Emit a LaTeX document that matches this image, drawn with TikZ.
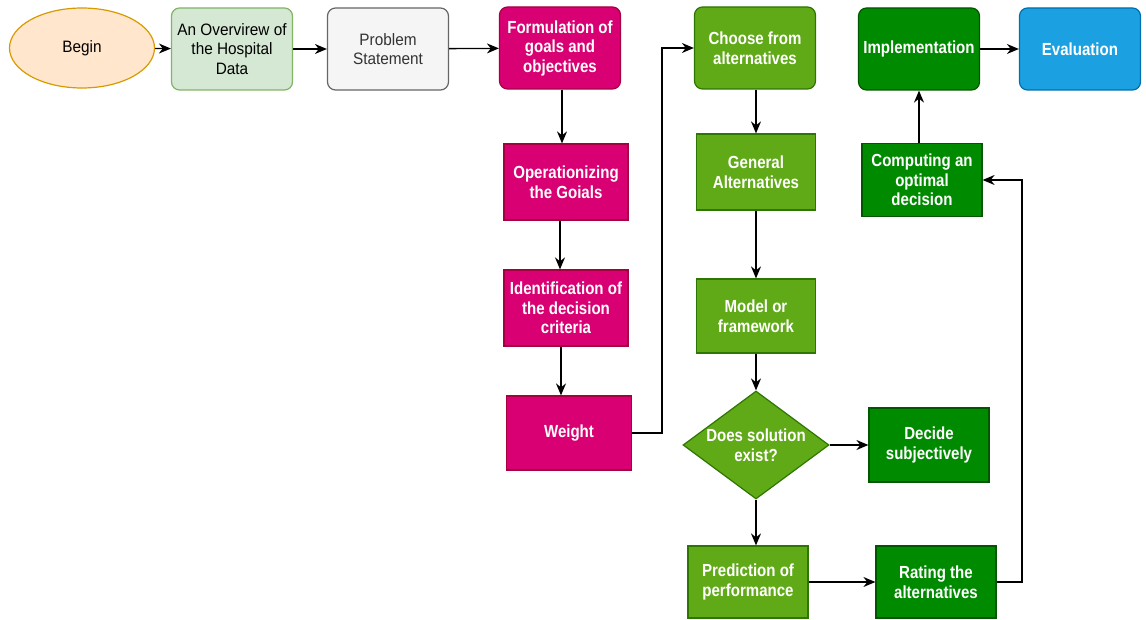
\documentclass[tikz,border=0pt]{standalone}
\usepackage{fontspec}
\setmainfont{Liberation Sans}[FakeStretch=0.93]
\newfontfamily\bfam{Liberation Sans}[FakeStretch=0.86]
\usetikzlibrary{shapes.geometric,arrows.meta}
\definecolor{magf}{HTML}{D80073}\definecolor{magd}{HTML}{A50040}
\definecolor{grf}{HTML}{60A917}\definecolor{grd}{HTML}{2D7600}
\definecolor{dgf}{HTML}{008A00}\definecolor{dgd}{HTML}{005700}
\definecolor{blf}{HTML}{1BA1E2}\definecolor{bld}{HTML}{006EAF}
\definecolor{orf}{HTML}{FFE6CC}\definecolor{ord}{HTML}{D79B00}
\definecolor{lgf}{HTML}{D5E8D4}\definecolor{lgd}{HTML}{82B366}
\definecolor{gyf}{HTML}{F5F5F5}\definecolor{gyd}{HTML}{666666}
\tikzset{
  box/.style={draw, line width=1.2pt, minimum width=121pt, minimum height=76pt, align=center,
    font=\fontsize{16.5}{19.5}\selectfont, inner sep=1pt},
  rbox/.style={box, rounded corners=8pt, minimum height=82pt},
  wb/.style={text=white, font=\fontsize{17.5}{19.5}\selectfont\bfam\bfseries},
  mag/.style={fill=magf, draw=magd, wb},
  grn/.style={fill=grf, draw=grd, wb},
  dgr/.style={fill=dgf, draw=dgd, wb},
  blu/.style={fill=blf, draw=bld, wb},
  arr/.style={draw=black, line width=1.3pt, -{Stealth[length=12pt,width=10pt]}},
}
\begin{document}
\begin{tikzpicture}[x=1pt,y=-1pt]
\useasboundingbox (0,0) rectangle (1146,620);
\node[ellipse, draw=ord, fill=orf, line width=1.2pt, minimum width=145pt, minimum height=80pt, font=\fontsize{16.5}{19.5}\selectfont] (begin) at (82,48) {Begin};
\node[rbox, draw=lgd, fill=lgf] (over) at (232,49) {An Overvirew of\\the Hospital\\Data};
\node[rbox, draw=gyd, fill=gyf, text=black!80] (prob) at (388,49) {Problem\\Statement};
\node[rbox, mag] (form) at (560,48) {Formulation of\\goals and\\objectives};
\node[rbox, grn] (choose) at (755,48) {Choose from\\alternatives};
\node[rbox, dgr] (impl) at (919,49) {Implementation};
\node[rbox, blu] (eval) at (1080,49) {Evaluation};

\node[box, mag, minimum width=124pt] (oper) at (566,182) {Operationizing\\the Goials};
\node[box, mag, minimum width=124pt] (ident) at (566,308) {Identification of\\the decision\\criteria};
\node[box, mag, minimum width=125pt, minimum height=74pt] (weight) at (569,433) {Weight};

\node[box, grn, minimum width=119pt] (gen) at (756,172) {General\\Alternatives};
\node[box, grn, minimum width=119pt, minimum height=74pt] (model) at (756,316) {Model or\\framework};
\node[diamond, aspect=1.35, fill=grf, draw=grd, line width=1.2pt, text=white, align=center,
  font=\fontsize{17.5}{19.5}\selectfont\bfam\bfseries, minimum width=146pt, minimum height=108pt, inner sep=0pt] (dia) at (756,445) {Does solution\\exist?};
\node[box, dgr, minimum width=120pt, minimum height=74pt] (decide) at (929,445) {Decide\\subjectively};
\node[box, grn, minimum width=120pt, minimum height=72pt] (pred) at (748,582) {Prediction of\\performance};
\node[box, dgr, minimum width=120pt, minimum height=72pt] (rate) at (936,582) {Rating the\\alternatives};
\node[box, dgr, minimum width=120pt, minimum height=73pt] (comp) at (922,180) {Computing an\\optimal\\decision};

\coordinate (w1) at (662,433);
\coordinate (w2) at (662,48);
\coordinate (r1) at (1022,582);
\coordinate (r2) at (1022,180);

\draw[arr] (begin) -- (over);
\draw[arr] (over) -- (prob);
\draw[arr] (prob) -- (form);
\draw[arr] (form.south -| 562,0) -- (oper.north -| 562,0);
\draw[arr] (oper.south -| 560,0) -- (ident.north -| 560,0);
\draw[arr] (ident.south -| 561,0) -- (weight.north -| 561,0);
\draw[arr] (weight.east) -- (w1) -- (w2) -- (choose.west);
\draw[arr] (choose.south -| 756,0) -- (gen.north);
\draw[arr] (gen) -- (model);
\draw[arr] (model) -- (dia);
\draw[arr] (dia) -- (decide);
\draw[arr] (dia.south) -- (pred.north -| dia.south);
\draw[arr] (pred) -- (rate);
\draw[arr] (rate.east) -- (r1) -- (r2) -- (comp.east);
\draw[arr] (comp.north -| 919,0) -- (impl.south);
\draw[arr] (impl) -- (eval);
\end{tikzpicture}
\end{document}
